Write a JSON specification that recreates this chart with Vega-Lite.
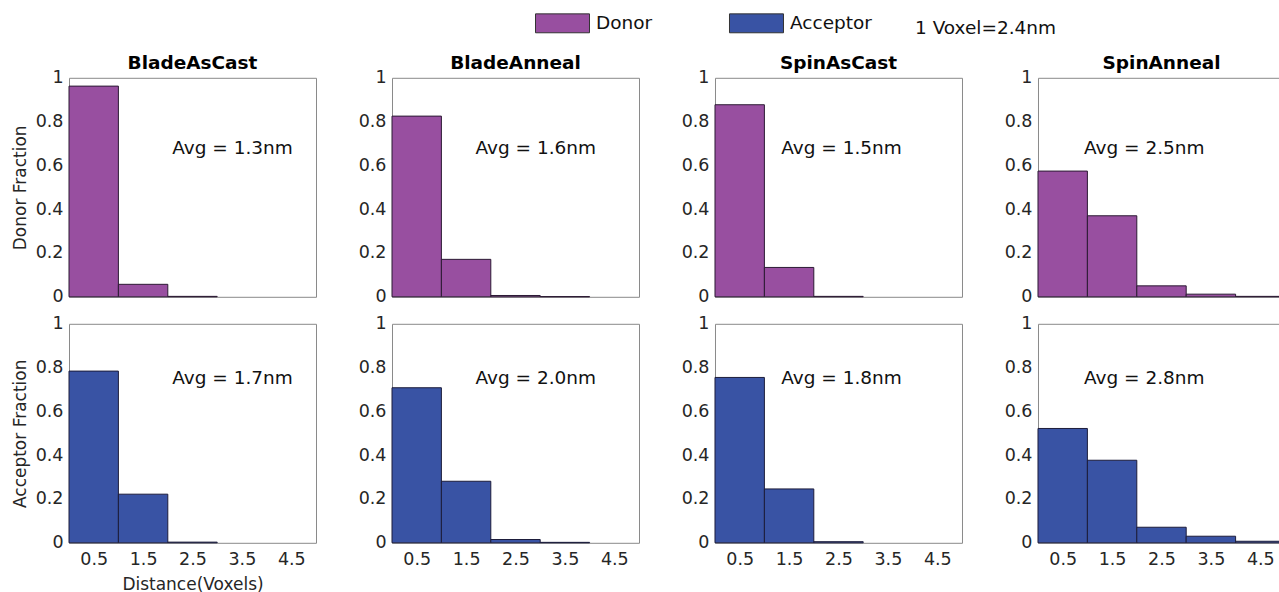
{
  "$schema": "https://vega.github.io/schema/vega-lite/v6.json",
  "padding": {"left": 10, "top": -4.2, "right": 0, "bottom": 0},
  "background": "white",
  "datasets": {
    "bars": [
      {"s": "BladeAsCast", "t": "Donor", "b0": 0, "b1": 1, "v": 0.962},
      {"s": "BladeAsCast", "t": "Donor", "b0": 1, "b1": 2, "v": 0.057},
      {"s": "BladeAsCast", "t": "Donor", "b0": 2, "b1": 3, "v": 0.002},
      {"s": "BladeAnneal", "t": "Donor", "b0": 0, "b1": 1, "v": 0.825},
      {"s": "BladeAnneal", "t": "Donor", "b0": 1, "b1": 2, "v": 0.171},
      {"s": "BladeAnneal", "t": "Donor", "b0": 2, "b1": 3, "v": 0.006},
      {"s": "BladeAnneal", "t": "Donor", "b0": 3, "b1": 4, "v": 0.001},
      {"s": "SpinAsCast", "t": "Donor", "b0": 0, "b1": 1, "v": 0.877},
      {"s": "SpinAsCast", "t": "Donor", "b0": 1, "b1": 2, "v": 0.134},
      {"s": "SpinAsCast", "t": "Donor", "b0": 2, "b1": 3, "v": 0.002},
      {"s": "SpinAnneal", "t": "Donor", "b0": 0, "b1": 1, "v": 0.574},
      {"s": "SpinAnneal", "t": "Donor", "b0": 1, "b1": 2, "v": 0.370},
      {"s": "SpinAnneal", "t": "Donor", "b0": 2, "b1": 3, "v": 0.050},
      {"s": "SpinAnneal", "t": "Donor", "b0": 3, "b1": 4, "v": 0.012},
      {"s": "SpinAnneal", "t": "Donor", "b0": 4, "b1": 5, "v": 0.002},
      {"s": "BladeAsCast", "t": "Acceptor", "b0": 0, "b1": 1, "v": 0.784},
      {"s": "BladeAsCast", "t": "Acceptor", "b0": 1, "b1": 2, "v": 0.222},
      {"s": "BladeAsCast", "t": "Acceptor", "b0": 2, "b1": 3, "v": 0.003},
      {"s": "BladeAnneal", "t": "Acceptor", "b0": 0, "b1": 1, "v": 0.708},
      {"s": "BladeAnneal", "t": "Acceptor", "b0": 1, "b1": 2, "v": 0.281},
      {"s": "BladeAnneal", "t": "Acceptor", "b0": 2, "b1": 3, "v": 0.015},
      {"s": "BladeAnneal", "t": "Acceptor", "b0": 3, "b1": 4, "v": 0.002},
      {"s": "SpinAsCast", "t": "Acceptor", "b0": 0, "b1": 1, "v": 0.755},
      {"s": "SpinAsCast", "t": "Acceptor", "b0": 1, "b1": 2, "v": 0.246},
      {"s": "SpinAsCast", "t": "Acceptor", "b0": 2, "b1": 3, "v": 0.005},
      {"s": "SpinAnneal", "t": "Acceptor", "b0": 0, "b1": 1, "v": 0.522},
      {"s": "SpinAnneal", "t": "Acceptor", "b0": 1, "b1": 2, "v": 0.377},
      {"s": "SpinAnneal", "t": "Acceptor", "b0": 2, "b1": 3, "v": 0.071},
      {"s": "SpinAnneal", "t": "Acceptor", "b0": 3, "b1": 4, "v": 0.030},
      {"s": "SpinAnneal", "t": "Acceptor", "b0": 4, "b1": 5, "v": 0.007}
    ],
    "avg": [
      {"s": "BladeAsCast", "t": "Donor", "label": "Avg = 1.3nm"},
      {"s": "BladeAnneal", "t": "Donor", "label": "Avg = 1.6nm"},
      {"s": "SpinAsCast", "t": "Donor", "label": "Avg = 1.5nm"},
      {"s": "SpinAnneal", "t": "Donor", "label": "Avg = 2.5nm"},
      {"s": "BladeAsCast", "t": "Acceptor", "label": "Avg = 1.7nm"},
      {"s": "BladeAnneal", "t": "Acceptor", "label": "Avg = 2.0nm"},
      {"s": "SpinAsCast", "t": "Acceptor", "label": "Avg = 1.8nm"},
      {"s": "SpinAnneal", "t": "Acceptor", "label": "Avg = 2.8nm"}
    ]
  },
  "data": {"name": "bars"},
  "config": {
    "font": "DejaVu Sans",
    "view": {"stroke": "#8a8a8a", "strokeWidth": 1},
    "axis": {"labelFont": "DejaVu Sans", "labelFontSize": 17.5, "labelColor": "#262626", "ticks": false, "domain": false, "grid": false, "labelPadding": 6, "titleFont": "DejaVu Sans", "titleFontSize": 17, "titleFontWeight": "normal", "titleColor": "#262626", "titlePadding": 6},
    "title": {"font": "DejaVu Sans", "fontSize": 18.5, "fontWeight": "bold", "color": "#000000", "anchor": "middle", "frame": "group", "baseline": "alphabetic", "offset": -3.5},
    "text": {"font": "DejaVu Sans", "fontSize": 18.5, "color": "#111111"},
    "legend": {"orient": "none", "legendX": 466, "legendY": -82, "direction": "horizontal", "symbolType": "M-1,-0.35H1V0.35H-1Z", "symbolSize": 2916, "symbolStrokeColor": "#333333", "symbolStrokeWidth": 1, "symbolOpacity": 1, "labelFont": "DejaVu Sans", "labelFontSize": 18.5, "labelColor": "#111111", "labelOffset": 6, "columnPadding": 74, "titleOrient": "right", "titleBaseline": "line-top", "titleLineHeight": 27, "titlePadding": 43, "titleFont": "DejaVu Sans", "titleFontSize": 18.5, "titleFontWeight": "normal", "titleColor": "#111111"}
  },
  "bounds": "flush",
  "columns": 4,
  "spacing": {"row": 27, "column": 76},
  "concat": [
    {
      "width": 247, "height": 219, "title": "BladeAsCast",
      "layer": [
        {"transform": [{"filter": "datum.s === 'BladeAsCast' && datum.t === 'Donor'"}],
         "mark": {"type": "bar", "stroke": "#2b1a33", "strokeWidth": 1},
         "encoding": {
           "x": {"field": "b0", "type": "quantitative", "scale": {"domain": [0, 5], "nice": false}, "axis": null},
           "x2": {"field": "b1"},
           "y": {"field": "v", "type": "quantitative", "scale": {"domain": [0, 1], "nice": false}, "axis": {"values": [0, 0.2, 0.4, 0.6, 0.8, 1], "format": "~g", "title": "Donor Fraction"}},
           "y2": {"datum": 0},
           "color": {"field": "t", "type": "nominal", "scale": {"domain": ["Donor", "Acceptor"], "range": ["#984FA0", "#3953A4"]}, "title": "1 Voxel=2.4nm"}
         }},
        {"data": {"name": "avg"}, "transform": [{"filter": "datum.s === 'BladeAsCast' && datum.t === 'Donor'"}],
         "mark": {"type": "text", "align": "center", "baseline": "middle"},
         "encoding": {"x": {"datum": 3.31}, "y": {"datum": 0.679}, "text": {"field": "label"}}}
      ]
    },
    {
      "width": 247, "height": 219, "title": "BladeAnneal",
      "layer": [
        {"transform": [{"filter": "datum.s === 'BladeAnneal' && datum.t === 'Donor'"}],
         "mark": {"type": "bar", "stroke": "#2b1a33", "strokeWidth": 1},
         "encoding": {
           "x": {"field": "b0", "type": "quantitative", "scale": {"domain": [0, 5], "nice": false}, "axis": null},
           "x2": {"field": "b1"},
           "y": {"field": "v", "type": "quantitative", "scale": {"domain": [0, 1], "nice": false}, "axis": {"values": [0, 0.2, 0.4, 0.6, 0.8, 1], "format": "~g", "title": null}},
           "y2": {"datum": 0},
           "color": {"field": "t", "type": "nominal", "scale": {"domain": ["Donor", "Acceptor"], "range": ["#984FA0", "#3953A4"]}, "title": "1 Voxel=2.4nm"}
         }},
        {"data": {"name": "avg"}, "transform": [{"filter": "datum.s === 'BladeAnneal' && datum.t === 'Donor'"}],
         "mark": {"type": "text", "align": "center", "baseline": "middle"},
         "encoding": {"x": {"datum": 2.91}, "y": {"datum": 0.679}, "text": {"field": "label"}}}
      ]
    },
    {
      "width": 247, "height": 219, "title": "SpinAsCast",
      "layer": [
        {"transform": [{"filter": "datum.s === 'SpinAsCast' && datum.t === 'Donor'"}],
         "mark": {"type": "bar", "stroke": "#2b1a33", "strokeWidth": 1},
         "encoding": {
           "x": {"field": "b0", "type": "quantitative", "scale": {"domain": [0, 5], "nice": false}, "axis": null},
           "x2": {"field": "b1"},
           "y": {"field": "v", "type": "quantitative", "scale": {"domain": [0, 1], "nice": false}, "axis": {"values": [0, 0.2, 0.4, 0.6, 0.8, 1], "format": "~g", "title": null}},
           "y2": {"datum": 0},
           "color": {"field": "t", "type": "nominal", "scale": {"domain": ["Donor", "Acceptor"], "range": ["#984FA0", "#3953A4"]}, "title": "1 Voxel=2.4nm"}
         }},
        {"data": {"name": "avg"}, "transform": [{"filter": "datum.s === 'SpinAsCast' && datum.t === 'Donor'"}],
         "mark": {"type": "text", "align": "center", "baseline": "middle"},
         "encoding": {"x": {"datum": 2.56}, "y": {"datum": 0.679}, "text": {"field": "label"}}}
      ]
    },
    {
      "width": 247, "height": 219, "title": "SpinAnneal",
      "layer": [
        {"transform": [{"filter": "datum.s === 'SpinAnneal' && datum.t === 'Donor'"}],
         "mark": {"type": "bar", "stroke": "#2b1a33", "strokeWidth": 1},
         "encoding": {
           "x": {"field": "b0", "type": "quantitative", "scale": {"domain": [0, 5], "nice": false}, "axis": null},
           "x2": {"field": "b1"},
           "y": {"field": "v", "type": "quantitative", "scale": {"domain": [0, 1], "nice": false}, "axis": {"values": [0, 0.2, 0.4, 0.6, 0.8, 1], "format": "~g", "title": null}},
           "y2": {"datum": 0},
           "color": {"field": "t", "type": "nominal", "scale": {"domain": ["Donor", "Acceptor"], "range": ["#984FA0", "#3953A4"]}, "title": "1 Voxel=2.4nm"}
         }},
        {"data": {"name": "avg"}, "transform": [{"filter": "datum.s === 'SpinAnneal' && datum.t === 'Donor'"}],
         "mark": {"type": "text", "align": "center", "baseline": "middle"},
         "encoding": {"x": {"datum": 2.15}, "y": {"datum": 0.679}, "text": {"field": "label"}}}
      ]
    },
    {
      "width": 247, "height": 219,
      "layer": [
        {"transform": [{"filter": "datum.s === 'BladeAsCast' && datum.t === 'Acceptor'"}],
         "mark": {"type": "bar", "stroke": "#1c1c3a", "strokeWidth": 1},
         "encoding": {
           "x": {"field": "b0", "type": "quantitative", "scale": {"domain": [0, 5], "nice": false}, "axis": {"values": [0.5, 1.5, 2.5, 3.5, 4.5], "format": ".1f", "labelPadding": 8, "title": "Distance(Voxels)", "titlePadding": 8}},
           "x2": {"field": "b1"},
           "y": {"field": "v", "type": "quantitative", "scale": {"domain": [0, 1], "nice": false}, "axis": {"values": [0, 0.2, 0.4, 0.6, 0.8, 1], "format": "~g", "title": "Acceptor Fraction"}},
           "y2": {"datum": 0},
           "color": {"field": "t", "type": "nominal", "scale": {"domain": ["Donor", "Acceptor"], "range": ["#984FA0", "#3953A4"]}, "title": "1 Voxel=2.4nm"}
         }},
        {"data": {"name": "avg"}, "transform": [{"filter": "datum.s === 'BladeAsCast' && datum.t === 'Acceptor'"}],
         "mark": {"type": "text", "align": "center", "baseline": "middle"},
         "encoding": {"x": {"datum": 3.31}, "y": {"datum": 0.752}, "text": {"field": "label"}}}
      ]
    },
    {
      "width": 247, "height": 219,
      "layer": [
        {"transform": [{"filter": "datum.s === 'BladeAnneal' && datum.t === 'Acceptor'"}],
         "mark": {"type": "bar", "stroke": "#1c1c3a", "strokeWidth": 1},
         "encoding": {
           "x": {"field": "b0", "type": "quantitative", "scale": {"domain": [0, 5], "nice": false}, "axis": {"values": [0.5, 1.5, 2.5, 3.5, 4.5], "format": ".1f", "labelPadding": 8, "title": null}},
           "x2": {"field": "b1"},
           "y": {"field": "v", "type": "quantitative", "scale": {"domain": [0, 1], "nice": false}, "axis": {"values": [0, 0.2, 0.4, 0.6, 0.8, 1], "format": "~g", "title": null}},
           "y2": {"datum": 0},
           "color": {"field": "t", "type": "nominal", "scale": {"domain": ["Donor", "Acceptor"], "range": ["#984FA0", "#3953A4"]}, "title": "1 Voxel=2.4nm"}
         }},
        {"data": {"name": "avg"}, "transform": [{"filter": "datum.s === 'BladeAnneal' && datum.t === 'Acceptor'"}],
         "mark": {"type": "text", "align": "center", "baseline": "middle"},
         "encoding": {"x": {"datum": 2.91}, "y": {"datum": 0.752}, "text": {"field": "label"}}}
      ]
    },
    {
      "width": 247, "height": 219,
      "layer": [
        {"transform": [{"filter": "datum.s === 'SpinAsCast' && datum.t === 'Acceptor'"}],
         "mark": {"type": "bar", "stroke": "#1c1c3a", "strokeWidth": 1},
         "encoding": {
           "x": {"field": "b0", "type": "quantitative", "scale": {"domain": [0, 5], "nice": false}, "axis": {"values": [0.5, 1.5, 2.5, 3.5, 4.5], "format": ".1f", "labelPadding": 8, "title": null}},
           "x2": {"field": "b1"},
           "y": {"field": "v", "type": "quantitative", "scale": {"domain": [0, 1], "nice": false}, "axis": {"values": [0, 0.2, 0.4, 0.6, 0.8, 1], "format": "~g", "title": null}},
           "y2": {"datum": 0},
           "color": {"field": "t", "type": "nominal", "scale": {"domain": ["Donor", "Acceptor"], "range": ["#984FA0", "#3953A4"]}, "title": "1 Voxel=2.4nm"}
         }},
        {"data": {"name": "avg"}, "transform": [{"filter": "datum.s === 'SpinAsCast' && datum.t === 'Acceptor'"}],
         "mark": {"type": "text", "align": "center", "baseline": "middle"},
         "encoding": {"x": {"datum": 2.56}, "y": {"datum": 0.752}, "text": {"field": "label"}}}
      ]
    },
    {
      "width": 247, "height": 219,
      "layer": [
        {"transform": [{"filter": "datum.s === 'SpinAnneal' && datum.t === 'Acceptor'"}],
         "mark": {"type": "bar", "stroke": "#1c1c3a", "strokeWidth": 1},
         "encoding": {
           "x": {"field": "b0", "type": "quantitative", "scale": {"domain": [0, 5], "nice": false}, "axis": {"values": [0.5, 1.5, 2.5, 3.5, 4.5], "format": ".1f", "labelPadding": 8, "title": null}},
           "x2": {"field": "b1"},
           "y": {"field": "v", "type": "quantitative", "scale": {"domain": [0, 1], "nice": false}, "axis": {"values": [0, 0.2, 0.4, 0.6, 0.8, 1], "format": "~g", "title": null}},
           "y2": {"datum": 0},
           "color": {"field": "t", "type": "nominal", "scale": {"domain": ["Donor", "Acceptor"], "range": ["#984FA0", "#3953A4"]}, "title": "1 Voxel=2.4nm"}
         }},
        {"data": {"name": "avg"}, "transform": [{"filter": "datum.s === 'SpinAnneal' && datum.t === 'Acceptor'"}],
         "mark": {"type": "text", "align": "center", "baseline": "middle"},
         "encoding": {"x": {"datum": 2.15}, "y": {"datum": 0.752}, "text": {"field": "label"}}}
      ]
    }
  ]
}
